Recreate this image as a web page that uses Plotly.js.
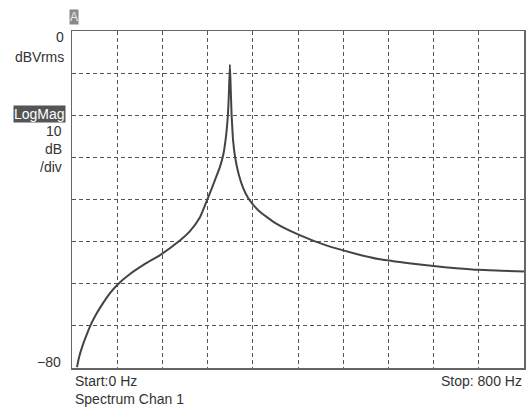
<!DOCTYPE html>
<html>
<head>
<meta charset="utf-8">
<script src="https://cdn.plot.ly/plotly-3.0.1.min.js"></script>
<style>
  html, body { margin: 0; padding: 0; background: #fff; }
  #plot { width: 526px; height: 408px; }
</style>
</head>
<body>
<div id="plot"></div>
<script>
// Spectrum magnitude, channel 1 (Hz vs dBVrms)
const freqHz = [8.85, 12.4, 17.7, 24.8, 31.9, 42.5, 54.9, 67.3, 81.4, 102.7, 129.2, 155.8,
  187.6, 208.8, 226.5, 240.7, 253, 262, 268, 271, 274, 276, 277.5, 279.5, 281, 282.5, 283.8,
  285, 288.5, 295, 303, 312, 330, 360, 402, 450, 500, 545, 600, 640, 680, 719, 760, 800];
const magDb = [-79.8, -77.5, -75.1, -72.5, -70.1, -67.3, -64.6, -62.2, -60.1, -57.7, -55.3, -53.2,
  -50.1, -47.5, -44.2, -39.6, -35.4, -32.2, -29.2, -26.7, -23.2, -19.8, -15.5, -8, -14, -20, -23.2,
  -25.8, -29.8, -34, -37.3, -39.7, -42.6, -45.6, -48.4, -50.9, -52.8, -54.2, -55.2, -55.8, -56.3, -56.7, -56.9, -57.1];

const xRange = [0, 800];
const yRange = [-80, 0];

// plot area in pixels
const L = 72, R = 524, T = 31, B = 368;
const px = x => (x - L) / (R - L);
const py = y => (B - y) / (B - T);

const font = {family: 'Liberation Sans, Arial, sans-serif', size: 14, color: '#333'};

function label(text, x, y, xanchor, extra) {
  return Object.assign({
    text: text, xref: 'paper', yref: 'paper', x: px(x), y: py(y),
    xanchor: xanchor, yanchor: 'middle', showarrow: false, font: font
  }, extra || {});
}

const annotations = [
  label('A', 74, 17, 'center', {bgcolor: '#8a8a8a', font: {family: font.family, size: 12, color: '#eee'}, borderpad: 0}),
  label('0', 66, 37, 'right'),
  label('dBVrms', 66, 57, 'right'),
  label('LogMag', 66, 114, 'right', {bgcolor: '#555', font: {family: font.family, size: 14, color: '#fff'}, borderpad: 0}),
  label('10', 64, 131, 'right'),
  label('dB', 64, 149, 'right'),
  label('/div', 64, 167, 'right'),
  label('\u221280', 63, 362, 'right'),
  label('Start:0 Hz', 73, 381, 'left'),
  label('Spectrum Chan 1', 73, 399, 'left'),
  label('Stop: 800 Hz', 524, 381, 'right')
];

const axisCommon = {
  showgrid: true, griddash: '4px,3px', gridcolor: '#555', gridwidth: 1,
  showticklabels: false, ticks: '', zeroline: false,
  showline: true, mirror: true, linecolor: '#666', linewidth: 1.5, fixedrange: true
};

Plotly.newPlot('plot', [{
  x: freqHz, y: magDb, type: 'scatter', mode: 'lines',
  line: {color: '#444', width: 2, shape: 'spline', smoothing: 0.5},
  hoverinfo: 'skip'
}], {
  width: 526, height: 408,
  margin: {l: L, r: 526 - R, t: T, b: 408 - B, pad: 0},
  paper_bgcolor: '#fff', plot_bgcolor: '#fff',
  showlegend: false,
  xaxis: Object.assign({range: xRange, tick0: 0, dtick: 80}, axisCommon),
  yaxis: Object.assign({range: yRange, tick0: -80, dtick: 10}, axisCommon),
  annotations: annotations
}, {displayModeBar: false, staticPlot: true});
</script>
</body>
</html>
